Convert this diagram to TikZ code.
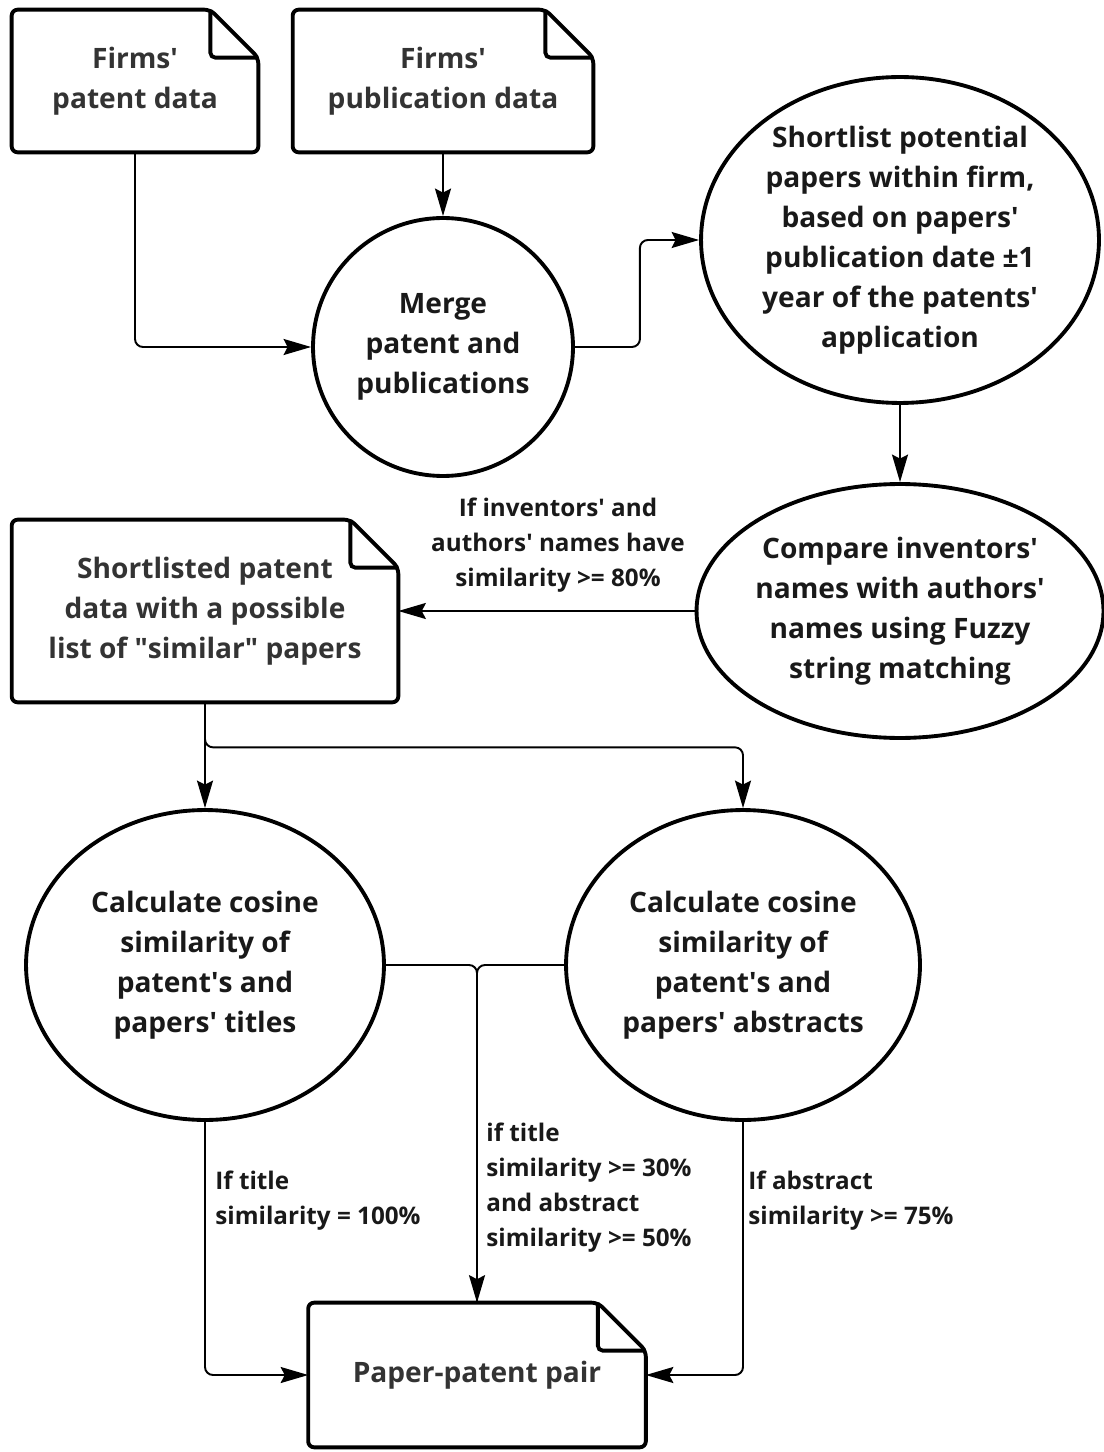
\documentclass[tikz,border=0pt]{standalone}
\usepackage{fontspec}
\setmainfont{Open Sans}
\usetikzlibrary{shapes.geometric,arrows.meta}

\newcommand{\ap}{\textquotesingle}
\newcommand{\qt}{\textquotedbl}

\tikzset{
  docnode/.style={align=center, inner sep=0pt, text=black!80,
    font=\bfseries\fontsize{16}{22.8}\selectfont},
  oval/.style={ellipse, draw, line width=2.2pt, align=center, inner sep=-0.4cm,
    text=black!90, font=\bfseries\fontsize{16}{22.8}\selectfont},
  link/.style={line width=1.1pt, rounded corners=0.16cm},
  flow/.style={link, -{Stealth[length=0.55cm,width=0.32cm,inset=0.08cm]}},
  cond/.style={align=left, anchor=west, inner sep=0pt, text=black!90,
    font=\bfseries\fontsize{13.8}{19.9}\selectfont}
}

% document outline with folded corner
\newcommand{\docframe}[1]{%
  \draw[line width=2.2pt, rounded corners=0.12cm]
    (#1.north west) -- ([xshift=-0.96cm]#1.north east)
    -- ([yshift=-0.96cm]#1.north east) -- (#1.south east)
    -- (#1.south west) -- cycle;
  \draw[line width=2.2pt, rounded corners=0.1cm]
    ([xshift=-0.96cm]#1.north east) -- ([xshift=-0.96cm,yshift=-0.96cm]#1.north east)
    -- ([yshift=-0.96cm]#1.north east);
}

\begin{document}
\begin{tikzpicture}[x=0.02cm, y=-0.02cm]
    \useasboundingbox (0,0) rectangle (1103,1452);

    % sources
    \node[docnode, minimum width=4.92cm, minimum height=2.84cm] (patents) at (135,81) {Firms\ap\\patent data};
    \node[docnode, minimum width=6cm, minimum height=2.84cm] (pubs) at (443,81) {Firms\ap\\publication data};
    \docframe{patents}
    \docframe{pubs}

    \node[oval, minimum width=5.2cm, minimum height=5.16cm] (merge) at (443,347) {Merge\\patent and\\publications};
    \node[oval, minimum width=7.96cm, minimum height=6.52cm] (shortlist) at (900,240)
        {Shortlist potential\\papers within firm,\\based on papers\ap\\publication date ±1\\year of the patents\ap\\application};
    \node[oval, minimum width=8.14cm, minimum height=5.08cm] (compare) at (900,611)
        {Compare inventors\ap\\names with authors\ap\\names using Fuzzy\\string matching};

    \node[docnode, minimum width=7.72cm, minimum height=3.64cm] (listed) at (205,611)
        {Shortlisted patent\\data with a possible\\list of \qt similar\qt{} papers};
    \docframe{listed}

    \node[oval, minimum width=7.16cm, minimum height=6.2cm] (titles) at (205,965)
        {Calculate cosine\\similarity of\\patent\ap s and\\papers\ap{} titles};
    \node[oval, minimum width=7.08cm, minimum height=6.2cm] (abstracts) at (743,965)
        {Calculate cosine\\similarity of\\patent\ap s and\\papers\ap{} abstracts};

    \node[docnode, minimum width=6.74cm, minimum height=2.88cm] (pair) at (477,1375) {Paper-patent pair};
    \docframe{pair}

    % connectors
    \draw[flow] (patents.south) |- (merge.west);
    \draw[flow] (pubs.south) -- (merge.north);
    \draw[flow] (merge.east) -- ++(65,0) |- (shortlist.west);
    \draw[flow] (shortlist.south) -- (compare.north);
    \draw[flow] (compare.west) -- (listed.east);
    \draw[flow] (listed.south) -- (titles.north);
    \draw[flow] (listed.south) -- ++(0,45) -| (abstracts.north);
    \draw[link] (titles.east) -| (pair.north);
    \draw[flow] (abstracts.west) -| (pair.north);
    \draw[flow] (titles.south) |- (pair.west);
    \draw[flow] (abstracts.south) |- (pair.east);

    % conditions
    \node[cond, anchor=center, align=center] (ruleA) at (558,545) {If inventors\ap{} and\\authors\ap{} names have\\similarity >= 80\%};
    \node[cond] (ruleB) at (215,1201) {If title\\similarity = 100\%};
    \node[cond] (ruleC) at (486,1188) {if title\\similarity >= 30\%\\and abstract\\similarity >= 50\%};
    \node[cond] (ruleD) at (748,1201) {If abstract\\similarity >= 75\%};

\end{tikzpicture}
\end{document}
